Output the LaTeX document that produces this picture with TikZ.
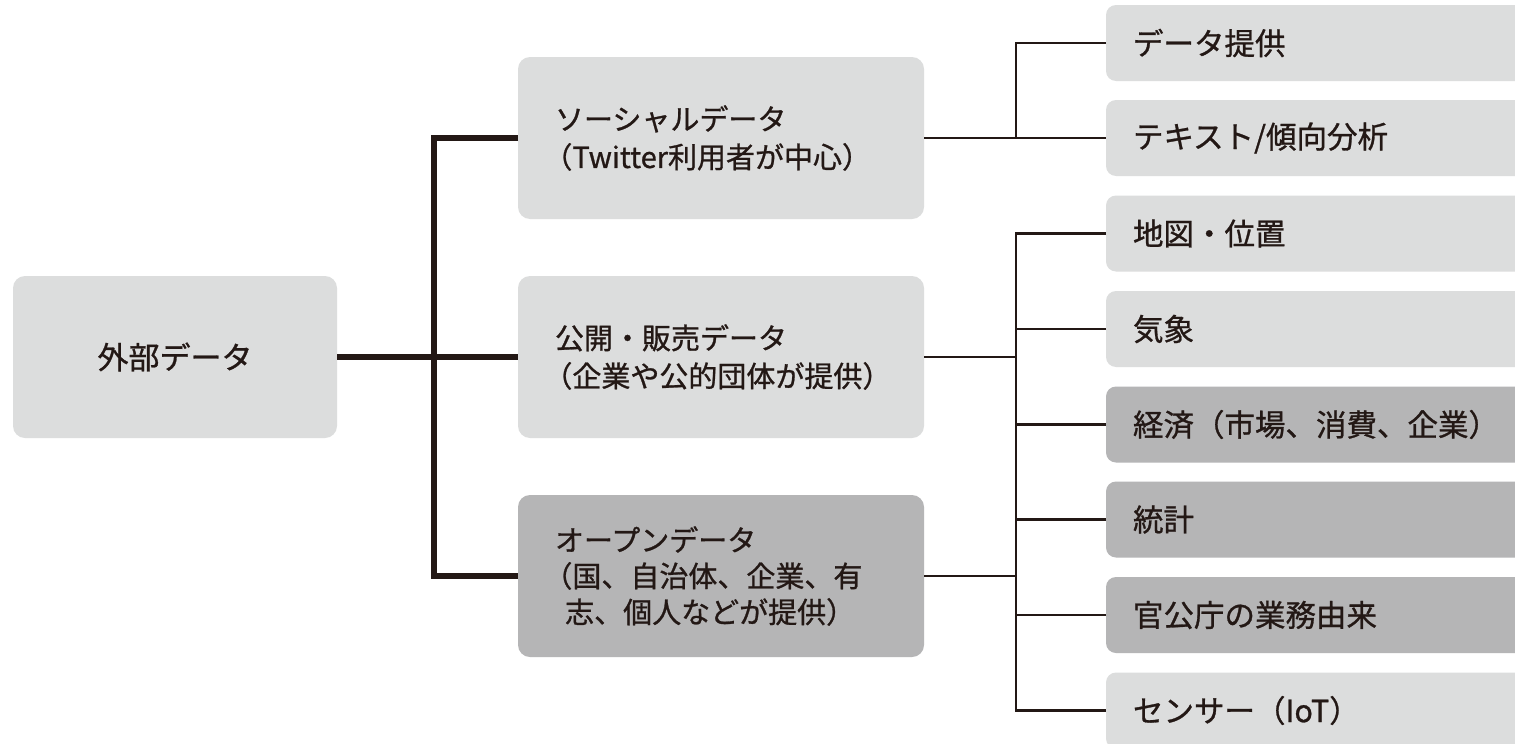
\documentclass[tikz,border=0pt]{standalone}
\usepackage{fontspec}
\setmainfont{Noto Sans CJK JP}[FakeBold=0.9]
\definecolor{lightbox}{HTML}{DCDDDD}
\definecolor{darkbox}{HTML}{B5B5B6}
\definecolor{ink}{HTML}{231815}
\newcommand\jlp{\hspace*{-0.4em}（}
\begin{document}
\begin{tikzpicture}[x=1pt,y=-1pt,
  every node/.style={text=ink},
  basebox/.style={rectangle, rounded corners=12pt, inner ysep=0pt, outer sep=0pt},
  leftbox/.style={basebox, fill=lightbox, minimum width=324pt, minimum height=162pt, font=\fontsize{31}{38}\selectfont},
  midbox/.style={basebox, minimum height=162pt, text width=332pt, inner xsep=37pt, align=left, font=\fontsize{29}{38}\selectfont},
  rightbox/.style={basebox, rounded corners=10pt, minimum height=76pt, text width=366pt, inner xsep=27pt, align=left, font=\fontsize{30.5}{36}\selectfont},
  thickline/.style={draw=ink, line width=5.5pt},
  thinline/.style={draw=ink, line width=2.7pt},
]
\useasboundingbox (0,0) rectangle (1515,744);
\clip (0,0) rectangle (1515,744);
\fill[white] (0,0) rectangle (1515,744);

\node[leftbox] (ext) at (175,357) {外部データ};

\node[midbox, fill=lightbox] (soc) at (721,138) {ソーシャルデータ\\\jlp Twitter利用者が中心）};
\node[midbox, fill=lightbox] (pub) at (721,357) {公開・販売データ\\\jlp 企業や公的団体が提供）};
\node[midbox, fill=darkbox, font=\fontsize{29}{36}\selectfont] (open) at (721,576) {オープンデータ\\\jlp 国、自治体、企業、有\\\hspace*{0.35em}志、個人などが提供）};

\node[rightbox, fill=lightbox] (r1) at (1316,43) {データ提供};
\node[rightbox, fill=lightbox] (r2) at (1316,138) {テキスト/傾向分析};
\node[rightbox, fill=lightbox] (r3) at (1316,233.5) {地図・位置};
\node[rightbox, fill=lightbox] (r4) at (1316,329) {気象};
\node[rightbox, fill=darkbox] (r5) at (1316,424.5) {経済（市場、消費、企業）};
\node[rightbox, fill=darkbox] (r6) at (1316,519.5) {統計};
\node[rightbox, fill=darkbox] (r7) at (1316,615) {官公庁の業務由来};
\node[rightbox, fill=lightbox] (r8) at (1316,710.5) {センサー（IoT）};

\coordinate (ja) at (434,357);
\coordinate (jb) at (1016,138);
\coordinate (jc) at (1016,357);

\draw[thickline] (ext.east) -- (pub.west);
\draw[thickline] (soc.west) -| (ja) |- (open.west);

\draw[thinline] (soc.east) -- (r2.west);
\draw[thinline] (r1.west) -| (jb);
\draw[thinline] (pub.east) -- (jc);
\draw[thinline] (open.east) -- (open.east -| jc);
\draw[thinline] (r3.west) -| (jc) |- (r8.west);
\foreach \k in {4,...,7} \draw[thinline] (r\k.west) -- (r\k.west -| jc);
\end{tikzpicture}
\end{document}
